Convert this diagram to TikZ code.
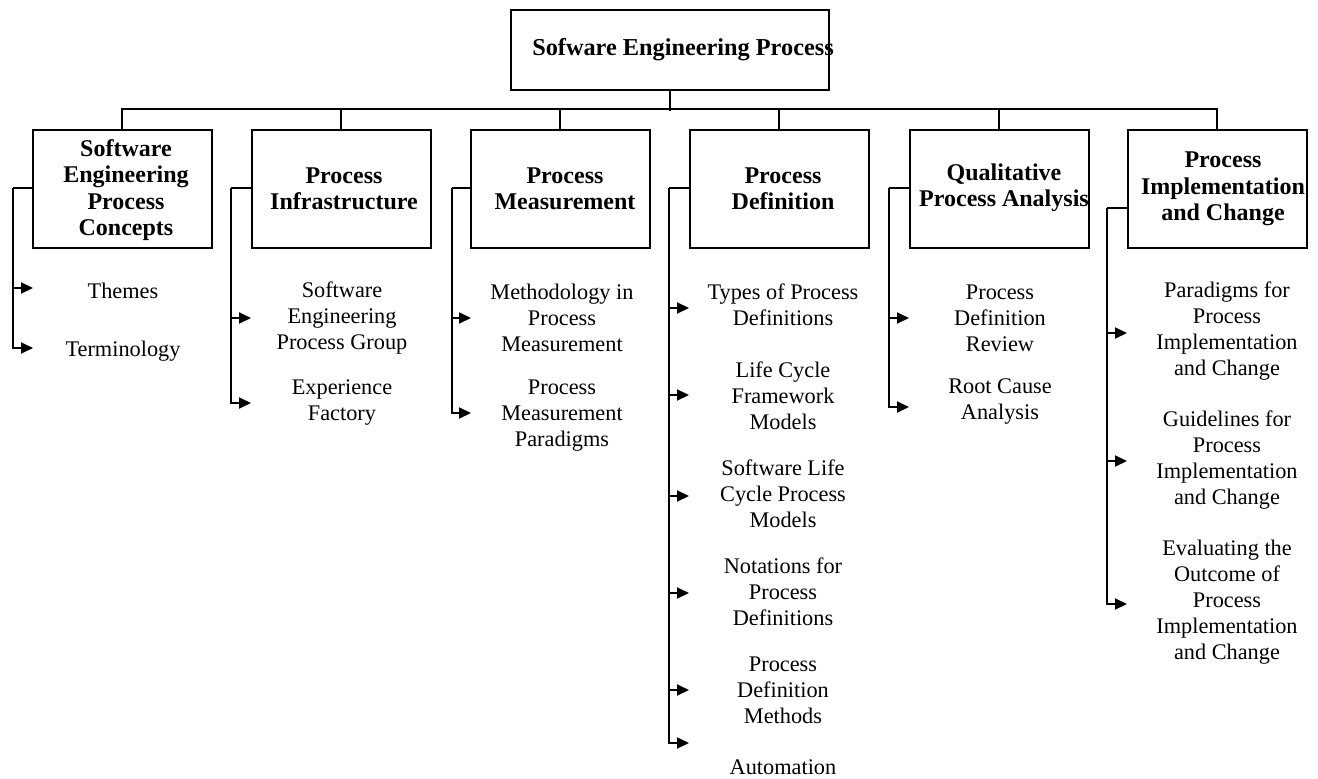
\documentclass[tikz,border=0pt]{standalone}
\usepackage{fontspec}
\setmainfont{Liberation Serif}
\usetikzlibrary{arrows.meta}
\newcommand\boxfont{\fontsize{24}{26.5}\selectfont\bfseries}
\newcommand\topfont{\fontsize{24.3}{26.5}\selectfont\bfseries}
\newcommand\itemfont{\fontsize{22.3}{26}\selectfont}
\tikzset{
  conn/.style={line width=2pt},
  arr/.style={line width=2pt,-{Triangle[length=12pt,width=11pt]}},
  topbox/.style={draw,line width=2pt,minimum width=318pt,minimum height=80pt,inner sep=0pt},
  catbox/.style={draw,line width=2pt,minimum width=179pt,minimum height=118pt,inner sep=0pt},
  cattext/.style={align=center,font=\boxfont,inner sep=0pt},
  itemtext/.style={align=center,font=\itemfont,inner sep=0pt}
}
\begin{document}
\begin{tikzpicture}[x=1pt,y=-1pt]
\useasboundingbox (0,0) rectangle (1318,779);
% top
\node[topbox] (top) at (670,50) {};
\node[cattext,font=\topfont] (toplbl) at (683,50) {Sofware Engineering Process};
% category boxes
\node[catbox] (b1) at (122,189) {};
\node[catbox] (b2) at (341,189) {};
\node[catbox] (b3) at (560,189) {};
\node[catbox] (b4) at (779,189) {};
\node[catbox] (b5) at (999,189) {};
\node[catbox] (b6) at (1217,189) {};
\node[cattext] (l1) at (126,190) {Software\\Engineering\\Process\\Concepts};
\node[cattext] (l2) at (344,189) {Process\\Infrastructure};
\node[cattext] (l3) at (565,189) {Process\\Measurement};
\node[cattext] (l4) at (783,189) {Process\\Definition};
\node[cattext] (l5) at (1004,188) {Qualitative\\Process Analysis};
\node[cattext] (l6) at (1223,189) {Process\\Implementation\\and Change};
% tree connectors
\draw[conn] (top.south) -- ++(0,20);
\draw[conn] (b1.north) -- ++(0,-20) -| (b6.north);
\foreach \b in {b2,b3,b4,b5}{\draw[conn] (\b.north) -- ++(0,-20);}
% items: column 1
\node[itemtext] (i11) at (123,291) {Themes};
\node[itemtext] (i12) at (123,351) {Terminology};
\coordinate (k1) at (13,188);
\coordinate (a11) at (33,288);
\coordinate (a12) at (33,348);
\draw[conn] (b1.west |- k1) -- (k1);
\draw[arr] (k1) |- (a12);
\draw[arr] (k1 |- a11) -- (a11);
% column 2
\node[itemtext] (i21) at (342,318) {Software\\Engineering\\Process Group};
\node[itemtext] (i22) at (342,403) {Experience\\Factory};
\coordinate (k2) at (231,188);
\coordinate (a21) at (251,318);
\coordinate (a22) at (251,403);
\draw[conn] (b2.west |- k2) -- (k2);
\draw[arr] (k2) |- (a22);
\draw[arr] (k2 |- a21) -- (a21);
% column 3
\node[itemtext] (i31) at (562,318) {Methodology in\\Process\\Measurement};
\node[itemtext] (i32) at (562,416) {Process\\Measurement\\Paradigms};
\coordinate (k3) at (452,188);
\coordinate (a31) at (471,318);
\coordinate (a32) at (471,413);
\draw[conn] (b3.west |- k3) -- (k3);
\draw[arr] (k3) |- (a32);
\draw[arr] (k3 |- a31) -- (a31);
% column 4
\node[itemtext] (i41) at (783,305) {Types of Process\\Definitions};
\node[itemtext] (i42) at (783,396) {Life Cycle\\Framework\\Models};
\node[itemtext] (i43) at (783,494) {Software Life\\Cycle Process\\Models};
\node[itemtext] (i44) at (783,592) {Notations for\\Process\\Definitions};
\node[itemtext] (i45) at (783,690) {Process\\Definition\\Methods};
\node[itemtext] (i46) at (783,767) {Automation};
\coordinate (k4) at (669,188);
\coordinate (a41) at (689,308);
\coordinate (a42) at (689,395);
\coordinate (a43) at (689,496);
\coordinate (a44) at (689,593);
\coordinate (a45) at (689,690);
\coordinate (a46) at (689,743);
\draw[conn] (b4.west |- k4) -- (k4);
\draw[arr] (k4) |- (a46);
\foreach \a in {a41,a42,a43,a44,a45}{\draw[arr] (k4 |- \a) -- (\a);}
% column 5
\node[itemtext] (i51) at (1000,318) {Process\\Definition\\Review};
\node[itemtext] (i52) at (1000,402) {Root Cause\\Analysis};
\coordinate (k5) at (889,188);
\coordinate (a51) at (909,318);
\coordinate (a52) at (909,407);
\draw[conn] (b5.west |- k5) -- (k5);
\draw[arr] (k5) |- (a52);
\draw[arr] (k5 |- a51) -- (a51);
% column 6
\node[itemtext] (i61) at (1227,331) {Paradigms for\\Process\\Implementation\\and Change};
\node[itemtext] (i62) at (1227,460) {Guidelines for\\Process\\Implementation\\and Change};
\node[itemtext] (i63) at (1227,602) {Evaluating the\\Outcome of\\Process\\Implementation\\and Change};
\coordinate (k6) at (1107,208);
\coordinate (a61) at (1127,333);
\coordinate (a62) at (1127,461);
\coordinate (a63) at (1127,604);
\draw[conn] (b6.west |- k6) -- (k6);
\draw[arr] (k6) |- (a63);
\draw[arr] (k6 |- a61) -- (a61);
\draw[arr] (k6 |- a62) -- (a62);
\end{tikzpicture}
\end{document}
